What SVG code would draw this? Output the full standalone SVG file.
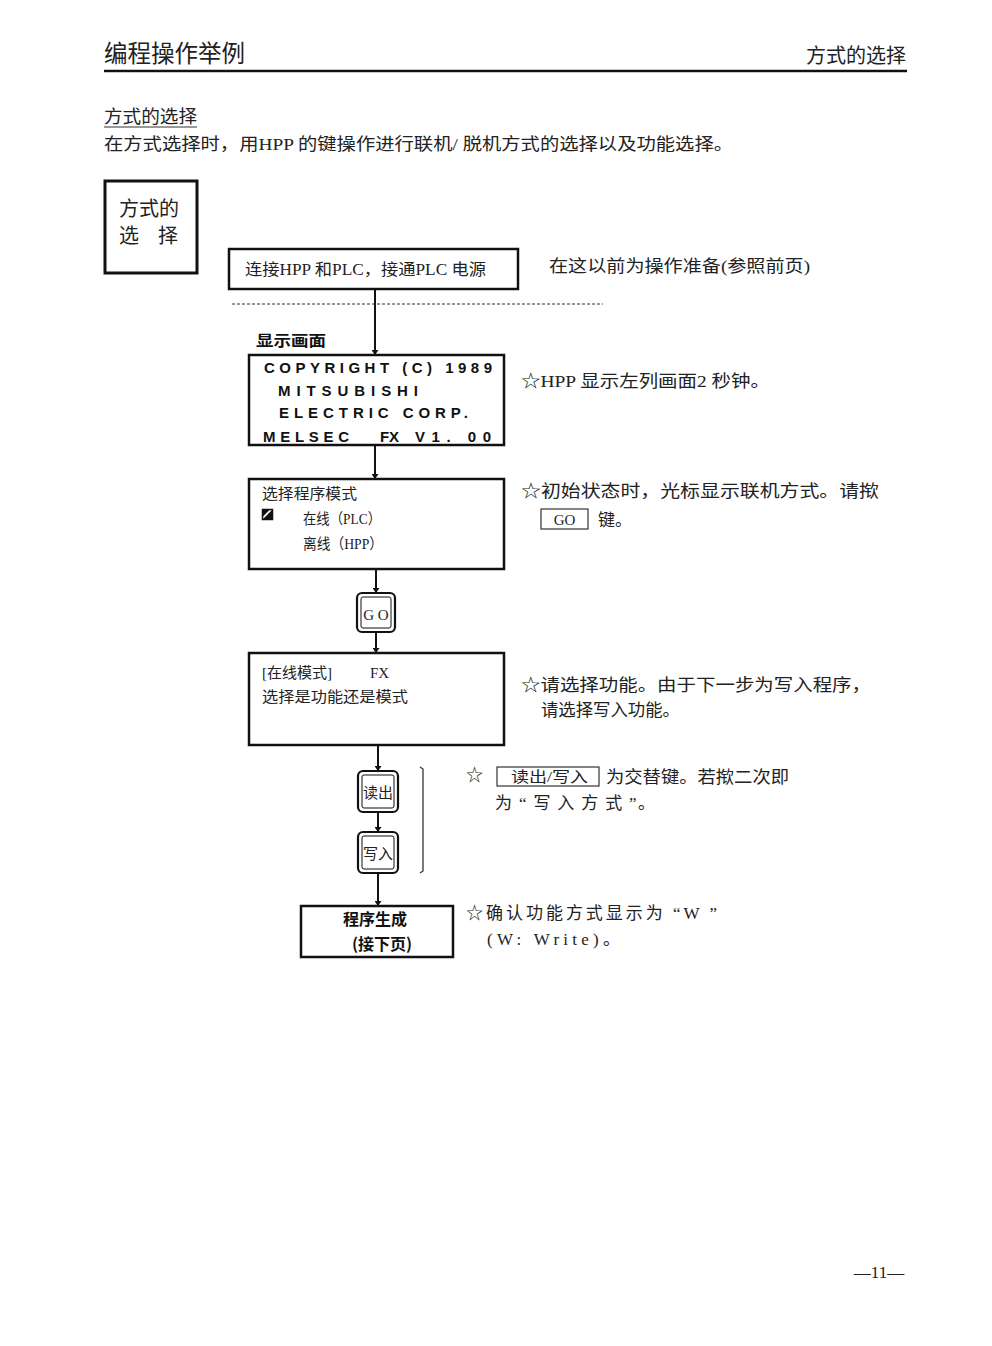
<svg xmlns="http://www.w3.org/2000/svg" width="992" height="1346" viewBox="0 0 992 1346">
<defs>
<marker id="arr" viewBox="0 0 10 10" refX="10" refY="5" markerWidth="5" markerHeight="7" markerUnits="userSpaceOnUse" orient="auto" preserveAspectRatio="none"><path d="M0,0 L10,5 L0,10 Z" fill="#111"/></marker>
</defs>
<style>
text{font-family:"Liberation Serif","Noto Sans CJK SC",serif;fill:#222}
.box{fill:#fff;stroke:#111;stroke-width:2.5}
.lcd{font-family:"Liberation Sans","Noto Sans CJK SC",sans-serif;font-weight:bold;font-size:15px;fill:#111}
.b{font-family:"Noto Sans CJK SC",sans-serif;font-weight:bold;fill:#111}
.key-o{fill:#fff;stroke:#111;stroke-width:2.2}
.key-i{fill:#fff;stroke:#111;stroke-width:1}
.conn{stroke:#111;stroke-width:2;fill:none}
.t17{font-size:17px}
.t15{font-size:15px}
</style>
<rect width="992" height="1346" fill="#fff"/>

<g id="header">
<text x="104" y="62" font-size="24" textLength="141" lengthAdjust="spacingAndGlyphs">编程操作举例</text>
<text x="906" y="63" font-size="20" text-anchor="end">方式的选择</text>
<line x1="104" y1="71" x2="907" y2="71" stroke="#111" stroke-width="2.5"/>
<text x="104" y="123" font-size="18" textLength="93" lengthAdjust="spacingAndGlyphs">方式的选择</text>
<line x1="104" y1="127" x2="197" y2="127" stroke="#333" stroke-width="1"/>
<text x="104" y="150" class="t17" textLength="629" lengthAdjust="spacingAndGlyphs">在方式选择时，用HPP 的键操作进行联机/ 脱机方式的选择以及功能选择。</text>
</g>

<g id="title-box">
<rect x="105" y="181" width="92" height="92" fill="#fff" stroke="#111" stroke-width="3"/>
<text x="119" y="216" font-size="20">方式的</text>
<text x="119" y="243" font-size="20">选</text>
<text x="158" y="243" font-size="20">择</text>
</g>

<g id="connectors">
<line class="conn" x1="375" y1="289" x2="375" y2="355" marker-end="url(#arr)"/>
<line class="conn" x1="375" y1="445" x2="375" y2="479" marker-end="url(#arr)"/>
<line class="conn" x1="376" y1="569" x2="376" y2="593" marker-end="url(#arr)"/>
<line class="conn" x1="376" y1="632" x2="376" y2="653" marker-end="url(#arr)"/>
<line class="conn" x1="378" y1="745" x2="378" y2="771" marker-end="url(#arr)"/>
<line class="conn" x1="378" y1="812" x2="378" y2="832" marker-end="url(#arr)"/>
<line class="conn" x1="378" y1="873" x2="378" y2="906" marker-end="url(#arr)"/>
<line x1="232" y1="304" x2="603" y2="304" stroke="#333" stroke-width="1" stroke-dasharray="3,2"/>
<path d="M420,767 L423,769 L423,871 L420,873" fill="none" stroke="#333" stroke-width="1.3"/>
</g>

<g id="n-connect">
<rect class="box" x="229" y="249" width="289" height="40"/>
<text x="245" y="275" font-size="16" textLength="241" lengthAdjust="spacingAndGlyphs">连接HPP 和PLC，接通PLC 电源</text>
</g>
<text x="549" y="272" class="t17" textLength="261" lengthAdjust="spacingAndGlyphs">在这以前为操作准备(参照前页)</text>

<g id="n-copyright">
<text x="256" y="346" class="b" font-size="15" textLength="70" lengthAdjust="spacingAndGlyphs">显示画面</text>
<rect class="box" x="249" y="355" width="255" height="90"/>
<text x="264" y="373" class="lcd" textLength="228" lengthAdjust="spacing">COPYRIGHT (C) 1989</text>
<text x="278" y="396" class="lcd" textLength="140" lengthAdjust="spacing">MITSUBISHI</text>
<text x="279" y="418" class="lcd" textLength="189" lengthAdjust="spacing">ELECTRIC  CORP.</text>
<text x="263" y="442" class="lcd" textLength="86" lengthAdjust="spacing">MELSEC</text>
<text x="380" y="442" class="lcd" textLength="19" lengthAdjust="spacing">FX</text>
<text x="415" y="442" class="lcd" textLength="76" lengthAdjust="spacing">V1. 00</text>
</g>
<text x="521" y="387" class="t17" textLength="249" lengthAdjust="spacingAndGlyphs">☆HPP 显示左列画面2 秒钟。</text>

<g id="n-select">
<rect class="box" x="249" y="479" width="255" height="90"/>
<text x="262" y="499" class="t15" textLength="95" lengthAdjust="spacingAndGlyphs">选择程序模式</text>
<rect x="262.5" y="509.5" width="10" height="10" fill="#fff" stroke="#111" stroke-width="1.5"/>
<path d="M262.5,519.5 L272.5,509.5 L272.5,519.5 Z" fill="#111"/>
<path d="M262.5,509.5 L270,509.5 L262.5,517 Z" fill="#111"/>
<text x="303" y="524" class="t15" textLength="78" lengthAdjust="spacingAndGlyphs">在线（PLC）</text>
<text x="303" y="549" class="t15" textLength="80" lengthAdjust="spacingAndGlyphs">离线（HPP）</text>
</g>
<text x="521" y="497" class="t17" textLength="358" lengthAdjust="spacingAndGlyphs">☆初始状态时，光标显示联机方式。请揿</text>
<rect x="541" y="509" width="47" height="20" fill="none" stroke="#333" stroke-width="1.2"/>
<text x="564.5" y="525" font-size="15" text-anchor="middle">GO</text>
<text x="598" y="526" class="t17">键。</text>

<g id="k-go">
<rect class="key-o" x="357" y="593" width="38" height="39" rx="5"/>
<rect class="key-i" x="361" y="597" width="30" height="31" rx="2"/>
<text x="376" y="620" font-size="15" text-anchor="middle">G O</text>
</g>

<g id="n-online">
<rect class="box" x="249" y="653" width="255" height="92"/>
<text x="262" y="678" class="t15">[在线模式]</text>
<text x="370" y="678" class="t15">FX</text>
<text x="262" y="702" class="t15" textLength="146" lengthAdjust="spacingAndGlyphs">选择是功能还是模式</text>
</g>
<text x="521" y="691" class="t17" textLength="350" lengthAdjust="spacingAndGlyphs">☆请选择功能。由于下一步为写入程序，</text>
<text x="541" y="716" class="t17" textLength="139" lengthAdjust="spacingAndGlyphs">请选择写入功能。</text>

<g id="k-read">
<rect class="key-o" x="358" y="771" width="40" height="41" rx="5"/>
<rect class="key-i" x="362" y="775" width="32" height="33" rx="2"/>
<text x="378" y="798" font-size="15" text-anchor="middle">读出</text>
</g>
<g id="k-write">
<rect class="key-o" x="358" y="832" width="40" height="41" rx="5"/>
<rect class="key-i" x="362" y="836" width="32" height="33" rx="2"/>
<text x="378" y="859" font-size="15" text-anchor="middle">写入</text>
</g>
<text x="466" y="781" class="t17">☆</text>
<rect x="497" y="767" width="102" height="19" fill="none" stroke="#333" stroke-width="1.2"/>
<text x="511" y="782" font-size="15" textLength="77" lengthAdjust="spacingAndGlyphs">读出/写入</text>
<text x="606" y="783" class="t17" textLength="183" lengthAdjust="spacingAndGlyphs">为交替键。若揿二次即</text>
<text x="495" y="809" class="t17" textLength="160" lengthAdjust="spacing">为 “ 写 入 方 式 ”。</text>

<g id="n-program">
<rect class="box" x="301" y="906" width="152" height="51"/>
<text x="375" y="925" class="b" font-size="16" text-anchor="middle">程序生成</text>
<text x="382" y="950" class="b" font-size="16" text-anchor="middle">(接下页)</text>
</g>
<text x="466" y="919" class="t17" textLength="251" lengthAdjust="spacing">☆确认功能方式显示为 “W ”</text>
<text x="487" y="945" class="t17" textLength="133" lengthAdjust="spacing">(W: Write)。</text>

<text x="879" y="1278" font-size="17" text-anchor="middle">—11—</text>
</svg>
